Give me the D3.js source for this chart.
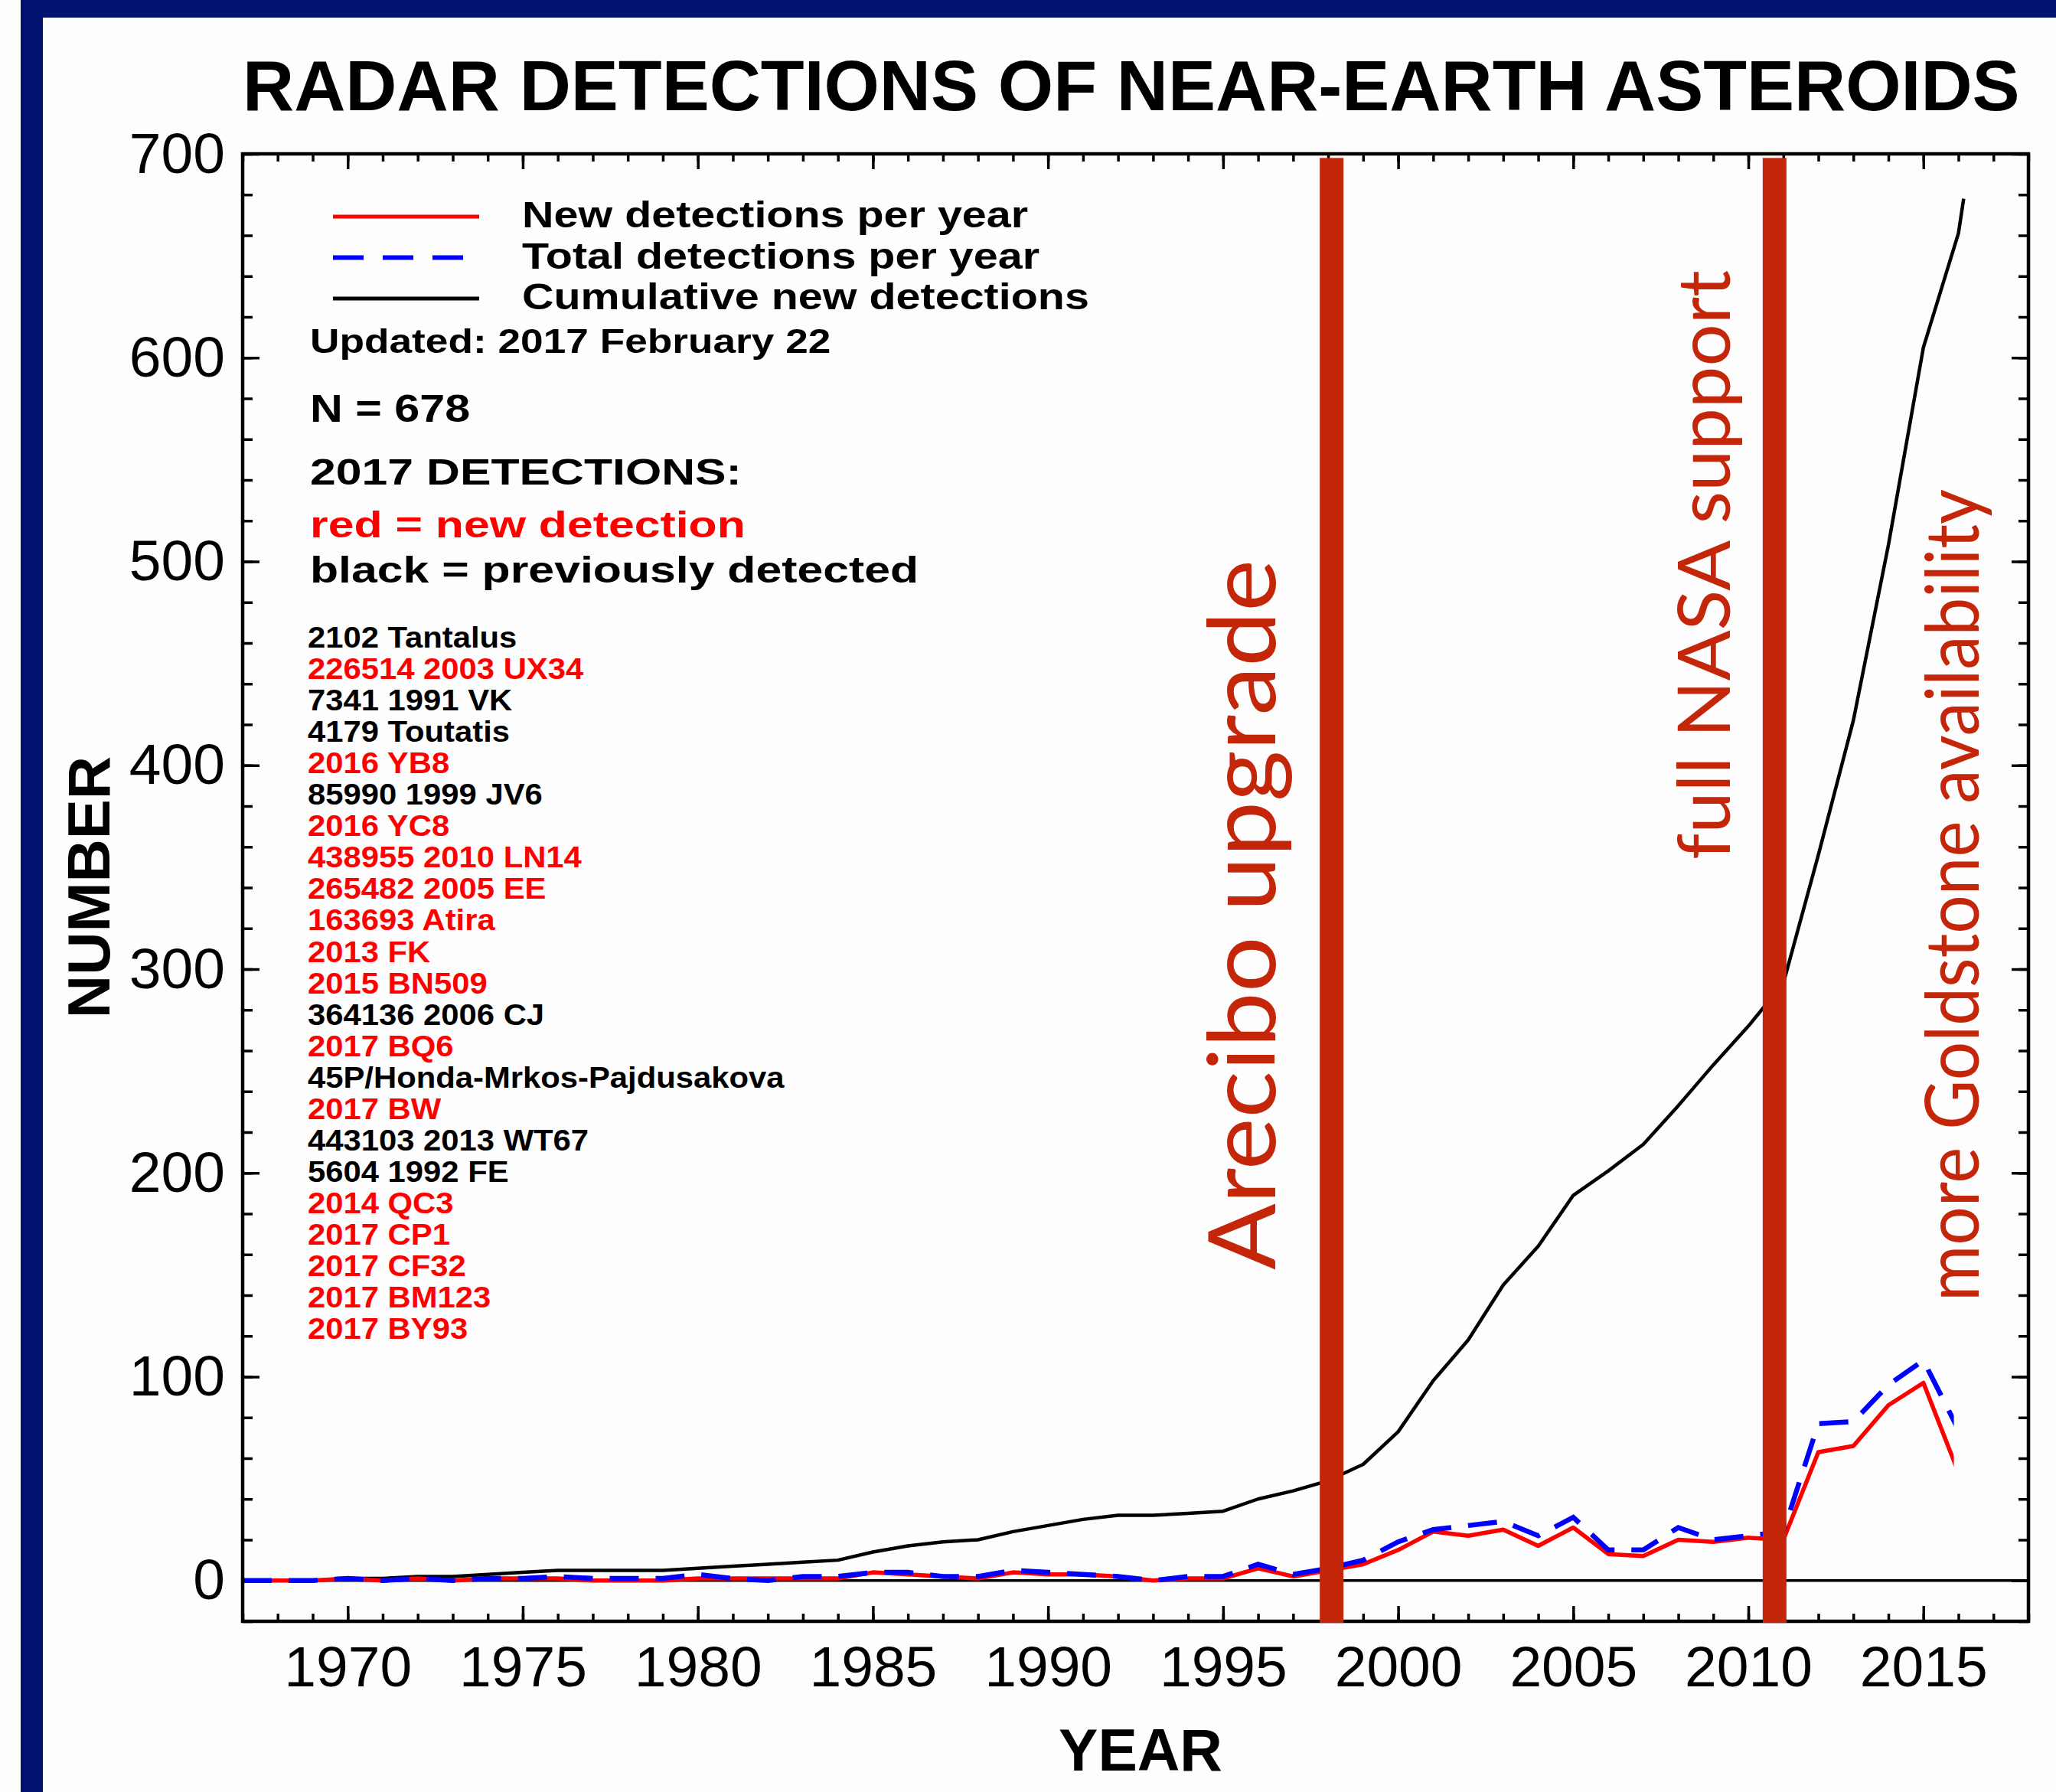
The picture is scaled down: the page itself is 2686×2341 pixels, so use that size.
<!DOCTYPE html>
<html>
<head>
<meta charset="utf-8">
<script src="https://cdn.jsdelivr.net/npm/d3@7"></script>
<style>
  body { margin: 0; background: #fdfdfd; }
  svg { display: block; }
</style>
</head>
<body>
<svg id="chart" width="2686" height="2341"></svg>
<script>
"use strict";

// values
var years = [1967, 1968, 1969, 1970, 1971, 1972, 1973, 1974, 1975, 1976,
    1977, 1978, 1979, 1980, 1981, 1982, 1983, 1984, 1985, 1986,
    1987, 1988, 1989, 1990, 1991, 1992, 1993, 1994, 1995, 1996,
    1997, 1998, 1999, 2000, 2001, 2002, 2003, 2004, 2005, 2006,
    2007, 2008, 2009, 2010, 2011, 2012, 2013, 2014, 2015, 2016];

var newPerYear = [0, 0, 0, 1, 0, 1, 0, 1, 1, 1,
    0, 0, 0, 1, 1, 1, 1, 1, 4, 3,
    2, 1, 4, 3, 3, 2, 0, 1, 1, 6,
    2, 5, 8, 15, 24, 22, 25, 17, 26, 13,
    12, 20, 19, 21, 20, 63, 66, 86, 97, 53];

var totalPerYear = [0, 0, 0, 1, 0, 1, 0, 1, 1, 2,
    1, 1, 1, 3, 1, 0, 2, 2, 4, 4,
    2, 2, 5, 4, 3, 2, 0, 2, 2, 8,
    3, 6, 10, 19, 25, 27, 29, 22, 31, 15,
    15, 26, 20, 22, 24, 77, 78, 96, 108, 74];

// cumulative curve runs a little past 2016 (to the update date)
var cumulativeYears = [1967, 1968, 1969, 1970, 1971, 1972, 1973, 1974, 1975, 1976,
    1977, 1978, 1979, 1980, 1981, 1982, 1983, 1984, 1985, 1986,
    1987, 1988, 1989, 1990, 1991, 1992, 1993, 1994, 1995, 1996,
    1997, 1998, 1999, 2000, 2001, 2002, 2003, 2004, 2005, 2006,
    2007, 2008, 2009, 2010, 2011, 2012, 2013, 2014, 2015, 2016, 2016.15];

var cumulativeNew = [0, 0, 0, 1, 1, 2, 2, 3, 4, 5,
    5, 5, 5, 6, 7, 8, 9, 10, 14, 17,
    19, 20, 24, 27, 30, 32, 32, 33, 34, 40,
    44, 49, 57, 73, 98, 118, 145, 164, 189, 201,
    214, 233, 253, 272, 293, 356, 422, 508, 605, 661, 678];

var xMajorTicks = [1970, 1975, 1980, 1985, 1990, 1995, 2000, 2005, 2010, 2015];
var yMajorTicks = [0, 100, 200, 300, 400, 500, 600, 700];

var eventYears = [1998.1, 2010.75];

var asteroidNames = ['2102 Tantalus', '226514 2003 UX34', '7341 1991 VK', '4179 Toutatis',
    '2016 YB8', '85990 1999 JV6', '2016 YC8', '438955 2010 LN14', '265482 2005 EE',
    '163693 Atira', '2013 FK', '2015 BN509', '364136 2006 CJ', '2017 BQ6',
    '45P/Honda-Mrkos-Pajdusakova', '2017 BW', '443103 2013 WT67', '5604 1992 FE',
    '2014 QC3', '2017 CP1', '2017 CF32', '2017 BM123', '2017 BY93'];
var asteroidIsNew = [false, true, false, false, true, false, true, true, true,
    true, true, true, false, true, false, true, false, false,
    true, true, true, true, true];

var W = 2686, H = 2341;
var NAVY = '#02126f';
var BRICK = '#c4260a';
var FONT = "'Liberation Sans', Arial, Helvetica, sans-serif";

var svg = d3.select('#chart');

svg.append('rect').attr('width', W).attr('height', H).attr('fill', '#fdfdfd');

// slide frame
svg.append('rect').attr('x', 27).attr('y', 0).attr('width', W - 27).attr('height', 23).attr('fill', NAVY);
svg.append('rect').attr('x', 27).attr('y', 0).attr('width', 29).attr('height', H).attr('fill', NAVY);

var x = d3.scaleLinear().domain([1967, 2018]).range([317, 2650]);
var y = d3.scaleLinear().domain([-20, 700]).range([2118, 201]);

var xRange = x.range(), yRange = y.range();

function addAxis(axis, tx, ty) {
    var g = svg.append('g')
        .attr('transform', 'translate(' + tx + ',' + ty + ')')
        .call(axis);
    g.select('.domain').remove();
    g.selectAll('line').attr('stroke', '#000').attr('stroke-width', 3.5);
    g.selectAll('text')
        .attr('fill', '#000')
        .style('font-family', FONT)
        .style('font-size', '75px');
    return g;
}

var xMinor = d3.range(1967, 2019);
var yMinor = d3.range(-20, 701, 20);

// bottom and top
addAxis(d3.axisBottom(x).tickValues(xMinor).tickSize(-10).tickFormat(''), 0, yRange[0]);
addAxis(d3.axisBottom(x).tickValues(xMajorTicks).tickSizeInner(-20).tickSizeOuter(0)
    .tickPadding(32).tickFormat(d3.format('d')), 0, yRange[0]);
addAxis(d3.axisTop(x).tickValues(xMinor).tickSize(-10).tickFormat(''), 0, yRange[1]);
addAxis(d3.axisTop(x).tickValues(xMajorTicks).tickSize(-20).tickFormat(''), 0, yRange[1]);

// left and right
addAxis(d3.axisLeft(y).tickValues(yMinor).tickSize(-13).tickFormat(''), xRange[0], 0);
addAxis(d3.axisLeft(y).tickValues(yMajorTicks).tickSizeInner(-22).tickSizeOuter(0)
    .tickPadding(23).tickFormat(d3.format('d')), xRange[0], 0);
addAxis(d3.axisRight(y).tickValues(yMinor).tickSize(-13).tickFormat(''), xRange[1], 0);
addAxis(d3.axisRight(y).tickValues(yMajorTicks).tickSize(-22).tickFormat(''), xRange[1], 0);

// zero line
svg.append('line')
    .attr('x1', xRange[0]).attr('x2', xRange[1])
    .attr('y1', y(0)).attr('y2', y(0))
    .attr('stroke', '#000').attr('stroke-width', 3.5);

var line = d3.line()
    .x(function(d) { return x(d[0]); })
    .y(function(d) { return y(d[1]); });

svg.append('path')
    .datum(d3.zip(cumulativeYears, cumulativeNew))
    .attr('d', line)
    .attr('fill', 'none').attr('stroke', '#000').attr('stroke-width', 4.5)
    .attr('stroke-linejoin', 'round');

// the per-year curves stop just short of 2016 in the original
svg.append('clipPath').attr('id', 'perYearClip')
    .append('rect')
    .attr('x', xRange[0]).attr('y', yRange[1])
    .attr('width', x(2015.87) - xRange[0]).attr('height', yRange[0] - yRange[1]);

svg.append('path')
    .datum(d3.zip(years, newPerYear))
    .attr('d', line)
    .attr('clip-path', 'url(#perYearClip)')
    .attr('fill', 'none').attr('stroke', '#ff0000').attr('stroke-width', 5.5)
    .attr('stroke-linejoin', 'round');

svg.append('path')
    .datum(d3.zip(years, totalPerYear))
    .attr('d', line)
    .attr('clip-path', 'url(#perYearClip)')
    .attr('fill', 'none').attr('stroke', '#0000ff').attr('stroke-width', 6.5)
    .attr('stroke-dasharray', '38,22');

// plot frame
svg.append('rect')
    .attr('x', xRange[0]).attr('y', yRange[1])
    .attr('width', xRange[1] - xRange[0]).attr('height', yRange[0] - yRange[1])
    .attr('fill', 'none').attr('stroke', '#000').attr('stroke-width', 4.5);

// title and axis titles
svg.append('text')
    .attr('x', 317).attr('y', 144)
    .style('font-family', FONT).style('font-size', '93px').style('font-weight', 'bold')
    .text('RADAR DETECTIONS OF NEAR-EARTH ASTEROIDS');

svg.append('text')
    .attr('x', 1490).attr('y', 2313)
    .attr('text-anchor', 'middle')
    .style('font-family', FONT).style('font-size', '77px').style('font-weight', 'bold')
    .text('YEAR');

svg.append('text')
    .attr('transform', 'translate(143,1159) rotate(-90)')
    .attr('text-anchor', 'middle')
    .style('font-family', FONT).style('font-size', '78px').style('font-weight', 'bold')
    .text('NUMBER');

// legend
var legendRows = [
    {label: 'New detections per year', color: '#ff0000', dash: null, width: 5, x2: 626},
    {label: 'Total detections per year', color: '#0000ff', dash: '40,25', width: 6, x2: 608},
    {label: 'Cumulative new detections', color: '#000', dash: null, width: 5, x2: 626}
];

function stretchText(str, px, py, size, sx, color) {
    return svg.append('text')
        .attr('transform', 'translate(' + px + ',' + py + ') scale(' + sx + ',1)')
        .attr('fill', color)
        .style('font-family', FONT)
        .style('font-size', size + 'px')
        .style('font-weight', 'bold')
        .text(str);
}

legendRows.forEach(function(row, i) {
    var ly = 283 + i * 53.5;
    svg.append('line')
        .attr('x1', 435).attr('x2', row.x2)
        .attr('y1', ly).attr('y2', ly)
        .attr('stroke', row.color).attr('stroke-width', row.width)
        .attr('stroke-dasharray', row.dash);
    stretchText(row.label, 682, ly + 14, 47.5, 1.21, '#000');
});

stretchText('Updated: 2017 February 22', 405, 461, 44, 1.21, '#000');
stretchText('N = 678', 405, 551, 49, 1.21, '#000');
stretchText('2017 DETECTIONS:', 405, 633, 49, 1.24, '#000');
stretchText('red = new detection', 405, 702, 49, 1.24, '#ff0000');
stretchText('black = previously detected', 405, 761, 49, 1.24, '#000');

asteroidNames.forEach(function(name, i) {
    stretchText(name, 402, 846 + i * 41.05, 38, 1.1, asteroidIsNew[i] ? '#ff0000' : '#000');
});

// event markers added over the plot
svg.selectAll('rect.event')
    .data(eventYears)
    .enter()
    .append('rect')
    .attr('class', 'event')
    .attr('x', function(d) { return x(d) - 15.5; })
    .attr('width', 31)
    .attr('y', y(698))
    .attr('height', y(-20.8) - y(698))
    .attr('fill', BRICK);

var notes = [
    {text: 'Arecibo upgrade', tx: 1666, ty: 1659, size: 122, len: 928},
    {text: 'full NASA support', tx: 2260, ty: 1123, size: 95, len: 770},
    {text: 'more Goldstone availability', tx: 2585, ty: 1700, size: 96, len: 1061}
];

notes.forEach(function(n) {
    svg.append('text')
        .attr('transform', 'translate(' + n.tx + ',' + n.ty + ') rotate(-90)')
        .attr('textLength', n.len)
        .attr('lengthAdjust', 'spacingAndGlyphs')
        .attr('fill', BRICK)
        .style('font-family', "Lato, 'Open Sans', sans-serif")
        .style('font-size', n.size + 'px')
        .text(n.text);
});
</script>
</body>
</html>
